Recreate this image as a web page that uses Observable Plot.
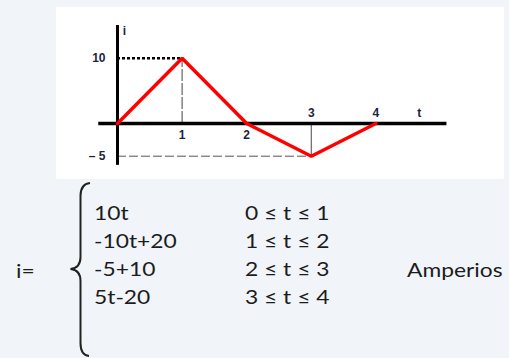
<!DOCTYPE html>
<html>
<head>
<meta charset="utf-8">
<script src="https://cdn.jsdelivr.net/npm/d3@7"></script>
<script src="https://cdn.jsdelivr.net/npm/@observablehq/plot@0.6"></script>
<style>
  html, body { margin: 0; padding: 0; }
  body { width: 509px; height: 358px; background: #f1f4f9; position: relative; overflow: hidden; }
  #panel { position: absolute; left: 56px; top: 7px; width: 448px; height: 172px; background: #ffffff; }
  #eq { position: absolute; left: 0; top: 0; }
</style>
</head>
<body>
<svg id="eq" width="509" height="358"></svg>
<div id="panel"></div>
<script>
// Triangular current waveform i(t), in amperes
const times = [0, 1, 2, 3, 4];
const currents = [0, 10, 0, -5, 0];

// Axis labels: 1 and 2 sit under the t axis, 3 and 4 above it
const xTicksBelow = [1, 2];
const xTicksAbove = [3, 4];
const yTickValues = [10, -5];
const yTickLabels = ["10", "\u2013 5"];
const xAxisName = "t";
const yAxisName = "i";

// Piecewise definition written below the chart
const lhsText = "i=";
const formulas = ["10t", "-10t+20", "-5+10", "5t-20"];
const intervals = ["0 \u2264 t \u2264 1", "1 \u2264 t \u2264 2", "2 \u2264 t \u2264 3", "3 \u2264 t \u2264 4"];
const unitText = "Amperios";

const points = times.map((t, k) => ({t, i: currents[k]}));
const peak = points[1];
const trough = points[3];

const labelColor = "#1b2440";
const labelFont = {fontFamily: "Liberation Sans, Arial, sans-serif", fontWeight: "bold", fontSize: 12, fill: labelColor};

// Axis extents (in data units) for the thick black cross
const tAxisFrom = -0.29, tAxisTo = 5.1;
const iAxisFrom = -6.4, iAxisTo = 15;

const chart = Plot.plot({
  width: 448,
  height: 172,
  margin: 0,
  style: {background: "transparent", overflow: "visible"},
  x: {domain: [0, 4], range: [61, 319.4], axis: null},
  y: {domain: [-5, 10], range: [148.7, 50.7], axis: null},
  marks: [
    // guide lines to the peak and the trough
    Plot.ruleY([peak.i], {x1: 0, x2: peak.t, stroke: "#000", strokeWidth: 2.4, strokeDasharray: "3,2"}),
    Plot.ruleX([peak.t], {y1: 0, y2: peak.i, stroke: "#444", strokeWidth: 1, strokeDasharray: "12,2"}),
    Plot.ruleY([trough.i], {x1: 0, x2: trough.t, stroke: "#555", strokeWidth: 1, strokeDasharray: "9,3"}),
    Plot.ruleX([trough.t], {y1: trough.i, y2: 0, stroke: "#666", strokeWidth: 1.2}),
    // axes
    Plot.ruleY([0], {x1: tAxisFrom, x2: tAxisTo, stroke: "#000", strokeWidth: 3.5}),
    Plot.ruleX([0], {y1: iAxisFrom, y2: iAxisTo, stroke: "#000", strokeWidth: 3}),
    // waveform
    Plot.line(points, {x: "t", y: "i", stroke: "#ff0000", strokeWidth: 3.5, strokeLinejoin: "miter"}),
    // tick labels
    Plot.text(xTicksBelow, {x: d => d, y: 0, text: d => String(d), dy: 12, ...labelFont}),
    Plot.text(xTicksAbove, {x: d => d, y: 0, text: d => String(d), dy: -10, ...labelFont}),
    Plot.text(yTickValues, {x: 0, y: d => d, text: (d, k) => yTickLabels[k], textAnchor: "end", dx: -12, ...labelFont}),
    Plot.text([xAxisName], {x: 4.67, y: 0, text: d => d, dy: -10, ...labelFont}),
    Plot.text([yAxisName], {x: 0, y: 14.2, text: d => d, dx: 7, ...labelFont})
  ]
});
document.getElementById("panel").appendChild(chart);

// Piecewise formula
const eq = d3.select("#eq");
const font = "Lato, 'Open Sans', sans-serif";
const fontSize = 20;
const stretch = 1.14;
const rowBaselines = [220, 248, 276, 304];
const ink = "#1c1c1c";

function stretched(sel) {
  sel.each(function () {
    const w = this.getComputedTextLength();
    d3.select(this).attr("textLength", w * stretch).attr("lengthAdjust", "spacingAndGlyphs");
  });
}

eq.append("text").attr("x", 16).attr("y", 278).attr("font-family", font).attr("font-size", fontSize)
  .attr("fill", ink).text(lhsText).call(stretched);

eq.append("path")
  .attr("d", "M 90 183 Q 80.5 184 80.5 196 L 80.5 257 Q 80.5 268 70.5 269 Q 80.5 270 80.5 281 L 80.5 343 Q 80.5 355 89 356")
  .attr("fill", "none").attr("stroke", "#222").attr("stroke-width", 2);

eq.selectAll("text.f").data(formulas).join("text").attr("class", "f")
  .attr("x", 94).attr("y", (d, k) => rowBaselines[k])
  .attr("font-family", font).attr("font-size", fontSize).attr("fill", ink)
  .text(d => d).call(stretched);

eq.selectAll("text.r").data(intervals).join("text").attr("class", "r")
  .attr("x", 245).attr("y", (d, k) => rowBaselines[k])
  .attr("font-family", font).attr("font-size", fontSize).attr("fill", ink)
  .text(d => d).call(stretched);

eq.append("text").attr("x", 407).attr("y", 277).attr("font-family", font).attr("font-size", fontSize)
  .attr("fill", ink).text(unitText).call(stretched);
</script>
</body>
</html>
